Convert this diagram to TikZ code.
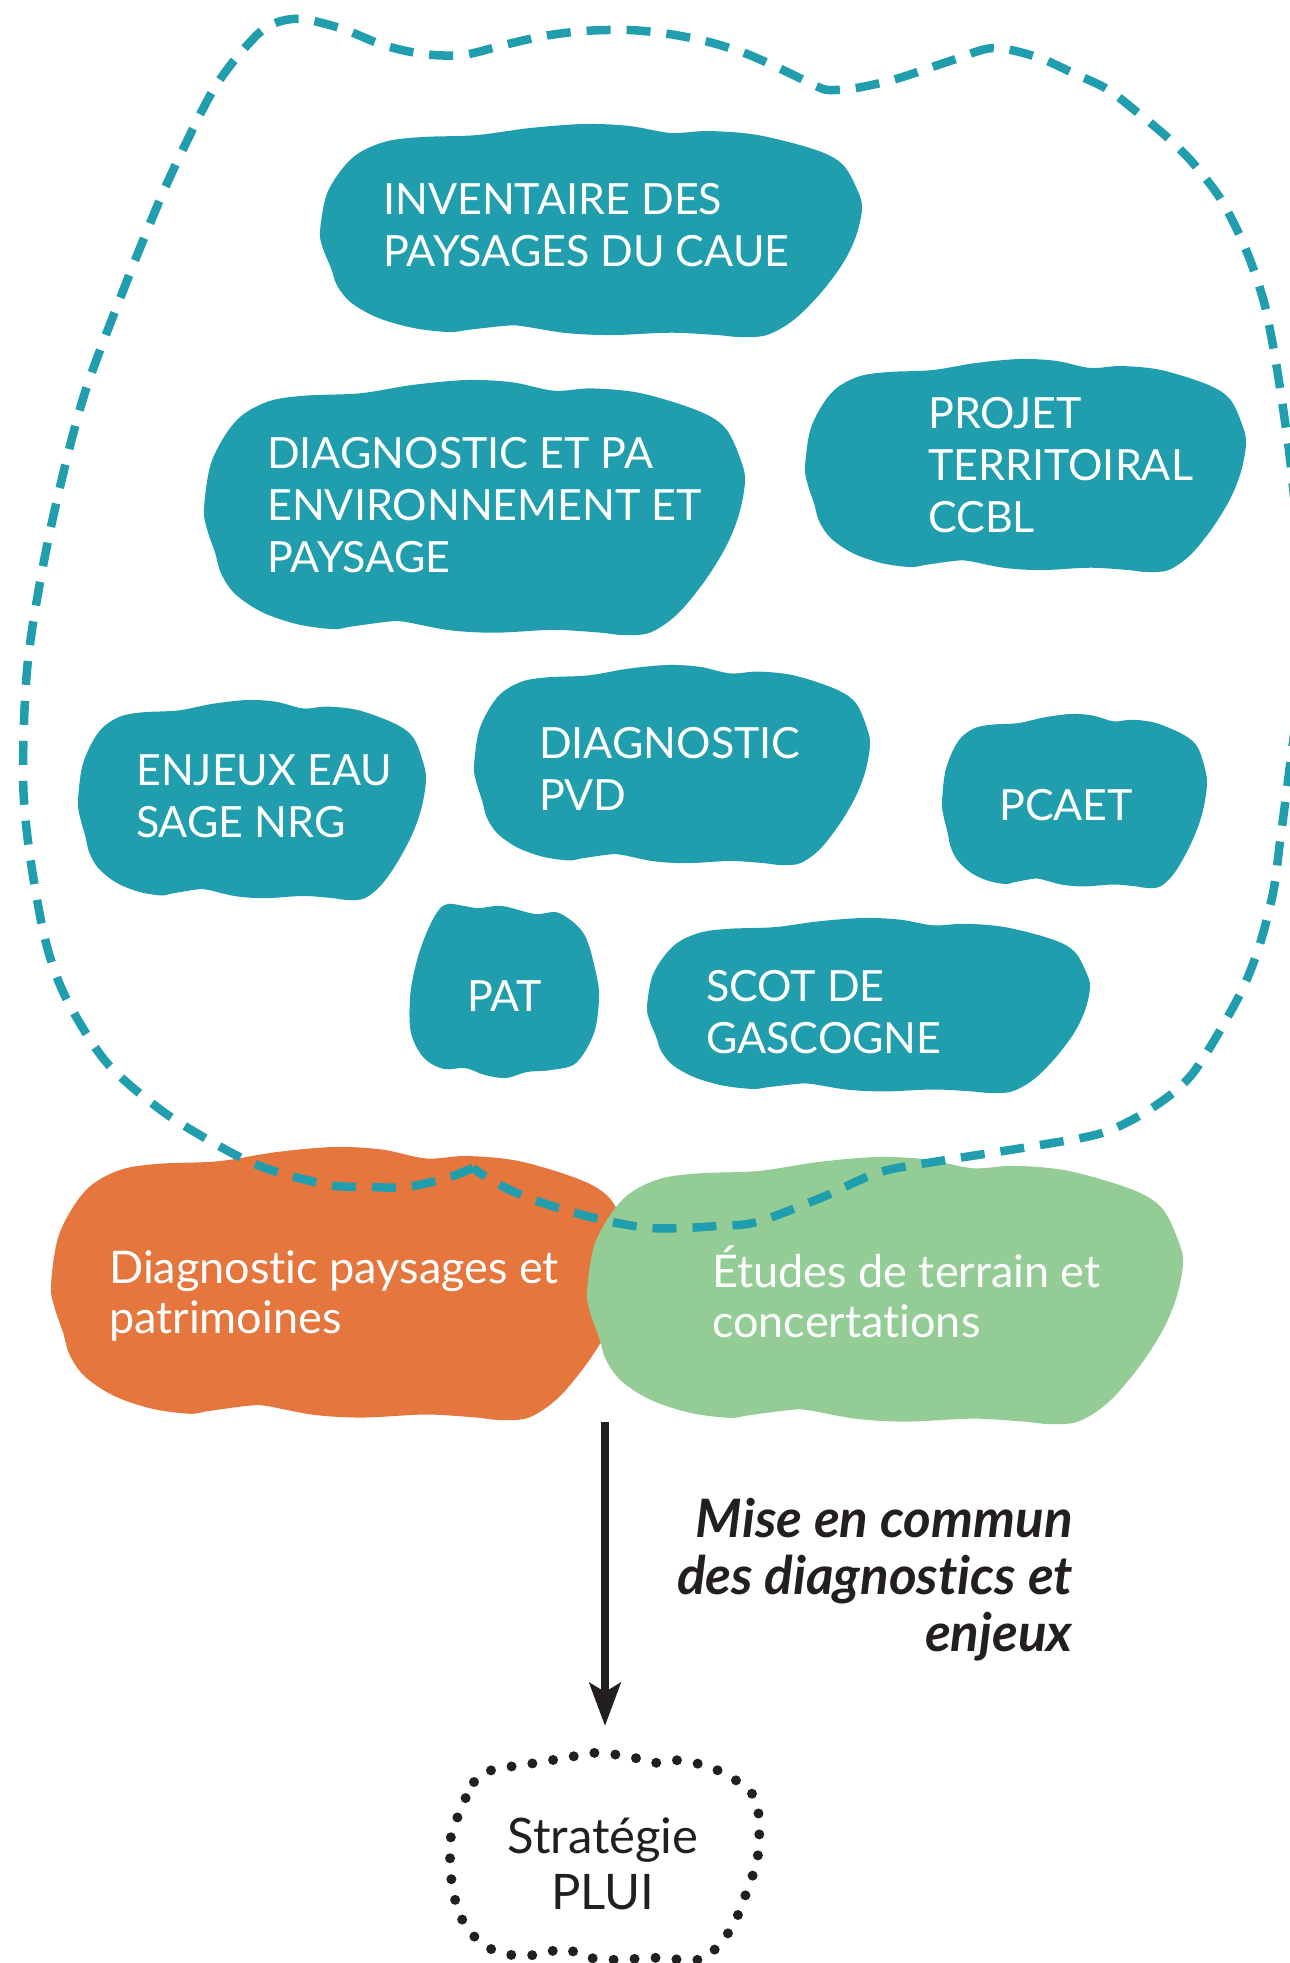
\documentclass[tikz,border=0pt]{standalone}
\usepackage{fontspec}
\setmainfont{Lato}[Ligatures={NoCommon}]
\usetikzlibrary{arrows.meta}
\definecolor{tealc}{RGB}{32,158,173}
\definecolor{orngc}{RGB}{228,118,62}
\definecolor{grnc}{RGB}{147,205,149}
\definecolor{inkc}{RGB}{35,31,32}
\newcommand\blobshape[5]{\fill[#5,shift={(#1,#2)},xscale=#3,yscale=#4] plot[smooth cycle,tension=0.55] coordinates {(0,0.507) (0.012,0.333) (0.042,0.207) (0.075,0.131) (0.125,0.080) (0.189,0.061) (0.289,0.052) (0.387,0.019) (0.487,0) (0.570,0.009) (0.647,0.042) (0.717,0.033) (0.808,0.052) (0.915,0.122) (0.965,0.192) (0.993,0.319) (1,0.399) (0.989,0.526) (0.965,0.653) (0.924,0.793) (0.874,0.920) (0.824,0.991) (0.775,1) (0.734,0.991) (0.668,0.981) (0.627,0.981) (0.536,0.991) (0.453,0.981) (0.370,0.948) (0.339,0.948) (0.272,0.967) (0.239,0.977) (0.173,0.958) (0.108,0.911) (0.058,0.840) (0.032,0.761) (0.021,0.681) (0.006,0.587)};}
\tikzset{
  btxt/.style={text=white, font=\fontsize{43}{52}\selectfont, align=left, inner sep=0pt, anchor=base west},
  ctxt/.style={btxt, font=\fontsize{45}{50}\selectfont},
  dashline/.style={draw=tealc, line width=8.5pt, dash pattern=on 24pt off 16pt},
  dotline/.style={draw=inkc, line width=10pt, line cap=round, dash pattern=on 0pt off 21pt},
  arr/.style={draw=inkc, line width=8pt, -{Stealth[length=43pt,width=31pt,inset=9pt]}}
}
\begin{document}
\begin{tikzpicture}[x=1pt,y=-1pt]
\useasboundingbox (0,0) rectangle (1290,1963);
\clip (0,0) rectangle (1290,1963);
% teal blobs
\blobshape{320}{124}{542}{213}{tealc}
\blobshape{204}{380}{541}{255}{tealc}
\blobshape{805}{359}{441}{213}{tealc}
\blobshape{78}{700}{348}{200}{tealc}
\blobshape{474}{665}{396}{200}{tealc}
\blobshape{942}{714}{265}{174}{tealc}
\blobshape{647}{918}{443}{175}{tealc}
\fill[tealc] plot[smooth cycle,tension=0.55] coordinates {(448,904) (477,908) (502,906) (535,914) (559,913) (584,934) (596,973) (599,998) (594,1033) (576,1063) (551,1070) (527,1072) (506,1078) (485,1075) (465,1068) (444,1069) (424,1058) (411,1033) (410,998) (415,968) (424,939) (436,914)};
% orange and green
\blobshape{51}{1147}{580}{273}{orngc}
\blobshape{587}{1157}{596}{267}{grnc}
% dashed outline
\draw[dashline] plot[smooth,tension=0.5] coordinates {(473,1168) (463,1172) (447,1178) (407,1187) (370,1187) (329,1185) (271,1170) (230,1152) (165,1113) (107,1063) (66,998) (45,939) (29,849) (23,774) (28,660) (49,536) (82,402) (123,291) (165,188) (206,103) (229,67) (258,34) (278,22) (303,19) (343,29) (383,45) (423,54) (463,55) (504,45) (544,36) (584,31) (629,30) (669,34) (709,42) (747,54) (785,71) (816,86) (829,90) (856,88) (896,79) (950,61) (993,48) (1037,57) (1073,73) (1107,89) (1137,112) (1167,137) (1193,163) (1220,198) (1240,236) (1253,268) (1265,306) (1275,357) (1283,408) (1290,459) (1298,540) (1302,620) (1298,700) (1290,765) (1285,804) (1280,842) (1273,893) (1258,950) (1237,1000) (1193,1073) (1152,1108) (1102,1133) (1028,1147) (946,1160) (880,1172) (823,1197) (757,1222) (717,1226) (683,1228) (650,1228) (617,1223) (583,1215) (543,1203) (510,1190) (483,1175) (473,1168)};
% texts (anchor = baseline of last line)
\node[btxt] (inv) at (383,266) {INVENTAIRE DES\\PAYSAGES DU CAUE};
\node[btxt] (dpa) at (267,572) {DIAGNOSTIC ET PA\\ENVIRONNEMENT ET\\PAYSAGE};
\node[btxt] (proj) at (928,532) {PROJET\\TERRITOIRAL\\CCBL};
\node[btxt] (enj) at (136,837) {ENJEUX EAU\\SAGE NRG};
\node[btxt] (pvd) at (539,810) {DIAGNOSTIC\\PVD};
\node[btxt] (pcaet) at (999,820) {PCAET};
\node[btxt] (pat) at (467,1011) {PAT};
\node[btxt] (scot) at (706,1053) {SCOT DE\\GASCOGNE};
\node[ctxt] (diag) at (109,1333) {Diagnostic paysages et\\patrimoines};
\node[ctxt] (etu) at (712,1337) {Études de terrain et\\concertations};
\node[font=\fontsize{53}{57}\selectfont\bfseries\itshape, text=inkc, align=right, anchor=base east, inner sep=0pt] (mise) at (1073,1651) {Mise en commun\\des diagnostics et\\enjeux};
% strategy
\draw[dotline] plot[smooth cycle,tension=0.55] coordinates {(458,1816) (474,1782) (492,1770) (529,1764) (570,1757) (590,1753) (610,1754) (632,1757) (652,1763) (672,1760) (695,1763) (717,1770) (737,1781) (753,1795) (759,1817) (759,1840) (757,1861) (750,1883) (742,1904) (733,1926) (719,1944) (706,1958) (686,1960) (663,1958) (643,1958) (623,1960) (603,1959) (585,1957) (567,1949) (552,1951) (534,1955) (512,1955) (489,1948) (471,1933) (460,1915) (454,1895) (451,1876) (450,1856) (451,1836)};
\node[font=\fontsize{49}{56}\selectfont, text=inkc, align=center, inner sep=0pt, anchor=base] (strat) at (603,1909) {Stratégie\\PLUI};
\coordinate (arrtop) at (605,1422);
\coordinate (arrtip) at (605,1726);
\draw[arr] (arrtop) -- (arrtip);
\end{tikzpicture}
\end{document}
